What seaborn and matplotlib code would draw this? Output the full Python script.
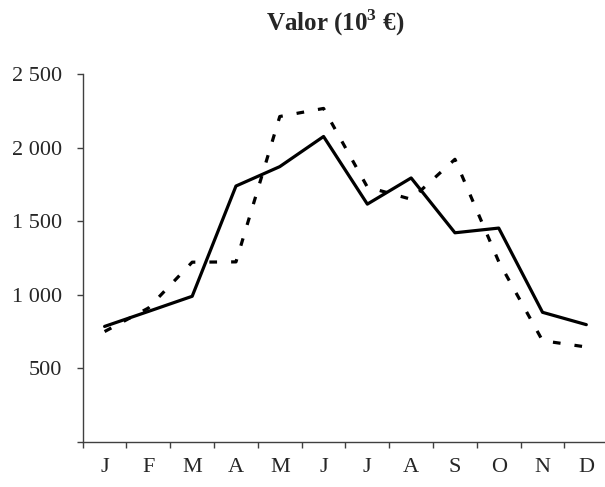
import numpy as np
import pandas as pd
import seaborn as sns
import matplotlib
matplotlib.use("Agg")
import matplotlib.pyplot as plt
from matplotlib.ticker import FixedLocator

# Chart values
months = ["J", "F", "M", "A", "M", "J", "J", "A", "S", "O", "N", "D"]
valor_solid = [783, 885, 988, 1738, 1870, 2075, 1615, 1793, 1420, 1452, 879, 795]
valor_dashed = [748, 908, 1220, 1222, 2211, 2266, 1731, 1648, 1920, 1224, 686, 643]
ytick_values = [0, 500, 1000, 1500, 2000, 2500]
ytick_labels = ["", "500", "1 000", "1 500", "2 000", "2 500"]
title = r"Valor (10$^{\mathbf{3}}$ €)"

df = pd.DataFrame({
    "mes": np.arange(len(months)),
    "solid": valor_solid,
    "dashed": valor_dashed,
})

sns.set_style("ticks")
plt.rcParams["font.family"] = ["Liberation Serif", "DejaVu Serif"]
plt.rcParams["mathtext.fontset"] = "custom"
plt.rcParams["mathtext.rm"] = "Liberation Serif"
plt.rcParams["mathtext.bf"] = "Liberation Serif:bold"

fig = plt.figure(figsize=(6.05, 4.87), dpi=100)
ax = fig.add_axes([0.1367, 0.0934, 0.8686, 0.7546])

sns.lineplot(data=df, x="mes", y="dashed", ax=ax, color="black", linewidth=2.3,
             linestyle=(0, (2.4, 4.4)))
sns.lineplot(data=df, x="mes", y="solid", ax=ax, color="black", linewidth=2.3)

ax.set_xlim(-0.5, len(months) - 0.5)
ax.set_ylim(ytick_values[0], ytick_values[-1])

# month boundaries as ticks, labels centred between them
ax.xaxis.set_major_locator(FixedLocator(np.arange(len(months) + 1) - 0.5))
ax.xaxis.set_minor_locator(FixedLocator(np.arange(len(months))))
ax.set_xticklabels([], minor=False)
ax.set_xticklabels(months, minor=True)
ax.tick_params(axis="x", which="major", length=4.5, width=1, color="#404040", direction="out")
ax.tick_params(axis="x", which="minor", length=0, pad=12, labelsize=16)

ax.set_yticks(ytick_values)
ax.set_yticklabels(ytick_labels)
ax.tick_params(axis="y", length=4, width=1, color="#404040", direction="out", pad=11, labelsize=16)

for side in ["top", "right"]:
    ax.spines[side].set_visible(False)
for side in ["left", "bottom"]:
    ax.spines[side].set_color("#404040")
    ax.spines[side].set_linewidth(1)

ax.set_xlabel("")
ax.set_ylabel("")
fig.text(335 / 605, 1 - 31 / 487, title, ha="center", va="baseline",
         fontsize=18, fontweight="bold")

plt.savefig("out.png", dpi=100)
